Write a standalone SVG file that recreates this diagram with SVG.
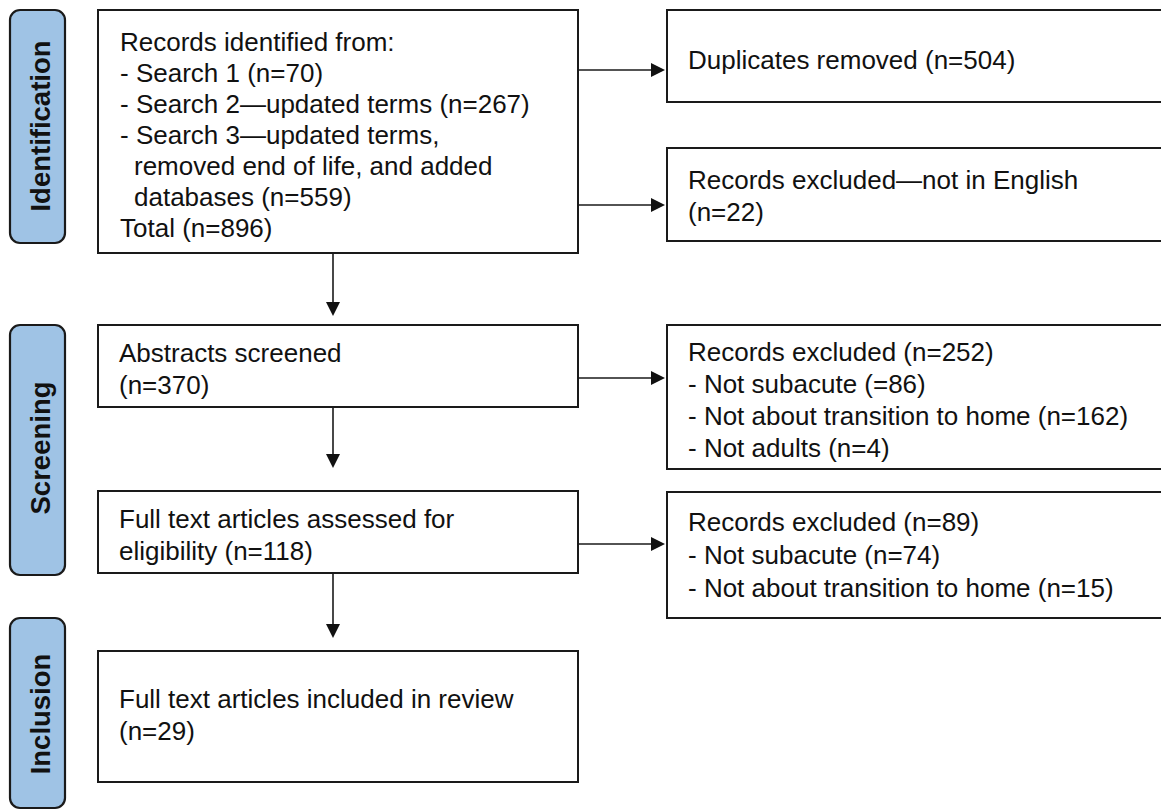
<svg xmlns="http://www.w3.org/2000/svg" width="1161" height="812" viewBox="0 0 1161 812">
<style>
.box{fill:#fff;stroke:#1a1a1a;stroke-width:2}
.side{fill:#9fc3e5;stroke:#1a1a1a;stroke-width:2.2}
.t{font-family:"Liberation Sans",Arial,sans-serif;font-size:26px;fill:#111}
.st{font-family:"Liberation Sans",Arial,sans-serif;font-size:27.5px;font-weight:bold;fill:#111;text-anchor:middle}
.c{stroke:#1a1a1a;stroke-width:1.6;fill:none;marker-end:url(#ah)}
</style>
<defs>
<marker id="ah" viewBox="0 0 14 14" refX="4" refY="7" markerWidth="14" markerHeight="14" markerUnits="userSpaceOnUse" orient="auto">
<path d="M0,0 L14,7 L0,14 z" fill="#111"/>
</marker>
</defs>
<g id="phase-identification">
<rect class="side" x="10" y="10" width="55" height="233" rx="10"/>
<text class="st" transform="translate(50,126) rotate(-90)">Identification</text>
</g>
<g id="phase-screening">
<rect class="side" x="10" y="325" width="55" height="250" rx="10"/>
<text class="st" transform="translate(50,448) rotate(-90)">Screening</text>
</g>
<g id="phase-inclusion">
<rect class="side" x="10" y="618" width="55" height="190" rx="10"/>
<text class="st" transform="translate(50,714) rotate(-90)">Inclusion</text>
</g>
<g id="records-identified">
<rect class="box" x="98" y="10" width="480" height="243"/>
<text class="t" x="120" y="51">Records identified from:</text>
<text class="t" x="120" y="82">- Search 1 (n=70)</text>
<text class="t" x="120" y="113">- Search 2—updated terms (n=267)</text>
<text class="t" x="120" y="144">- Search 3—updated terms,</text>
<text class="t" x="134" y="175">removed end of life, and added</text>
<text class="t" x="134" y="206">databases (n=559)</text>
<text class="t" x="120" y="237">Total (n=896)</text>
</g>
<g id="duplicates">
<rect class="box" x="667" y="10" width="510" height="92"/>
<text class="t" x="688" y="69">Duplicates removed (n=504)</text>
</g>
<g id="not-english">
<rect class="box" x="667" y="148" width="510" height="93"/>
<text class="t" x="688" y="189">Records excluded—not in English</text>
<text class="t" x="688" y="221">(n=22)</text>
</g>
<g id="abstracts">
<rect class="box" x="98" y="325" width="480" height="82"/>
<text class="t" x="119" y="362">Abstracts screened</text>
<text class="t" x="119" y="394">(n=370)</text>
</g>
<g id="excluded-252">
<rect class="box" x="667" y="325" width="510" height="144"/>
<text class="t" x="688" y="361">Records excluded (n=252)</text>
<text class="t" x="688" y="393">- Not subacute (=86)</text>
<text class="t" x="688" y="425">- Not about transition to home (n=162)</text>
<text class="t" x="688" y="457">- Not adults (n=4)</text>
</g>
<g id="fulltext-assessed">
<rect class="box" x="98" y="491" width="480" height="82"/>
<text class="t" x="119" y="528">Full text articles assessed for</text>
<text class="t" x="119" y="560">eligibility (n=118)</text>
</g>
<g id="excluded-89">
<rect class="box" x="667" y="492" width="510" height="126"/>
<text class="t" x="688" y="531">Records excluded (n=89)</text>
<text class="t" x="688" y="564">- Not subacute (n=74)</text>
<text class="t" x="688" y="597">- Not about transition to home (n=15)</text>
</g>
<g id="included">
<rect class="box" x="98" y="651" width="480" height="131"/>
<text class="t" x="119" y="708">Full text articles included in review</text>
<text class="t" x="119" y="740">(n=29)</text>
</g>
<g id="connectors">
<line class="c" x1="578" y1="70" x2="655" y2="70"/>
<line class="c" x1="578" y1="205" x2="655" y2="205"/>
<line class="c" x1="333" y1="253" x2="333" y2="306"/>
<line class="c" x1="578" y1="378" x2="655" y2="378"/>
<line class="c" x1="333" y1="407" x2="333" y2="458"/>
<line class="c" x1="578" y1="544" x2="655" y2="544"/>
<line class="c" x1="333" y1="573" x2="333" y2="628"/>
</g>
</svg>
